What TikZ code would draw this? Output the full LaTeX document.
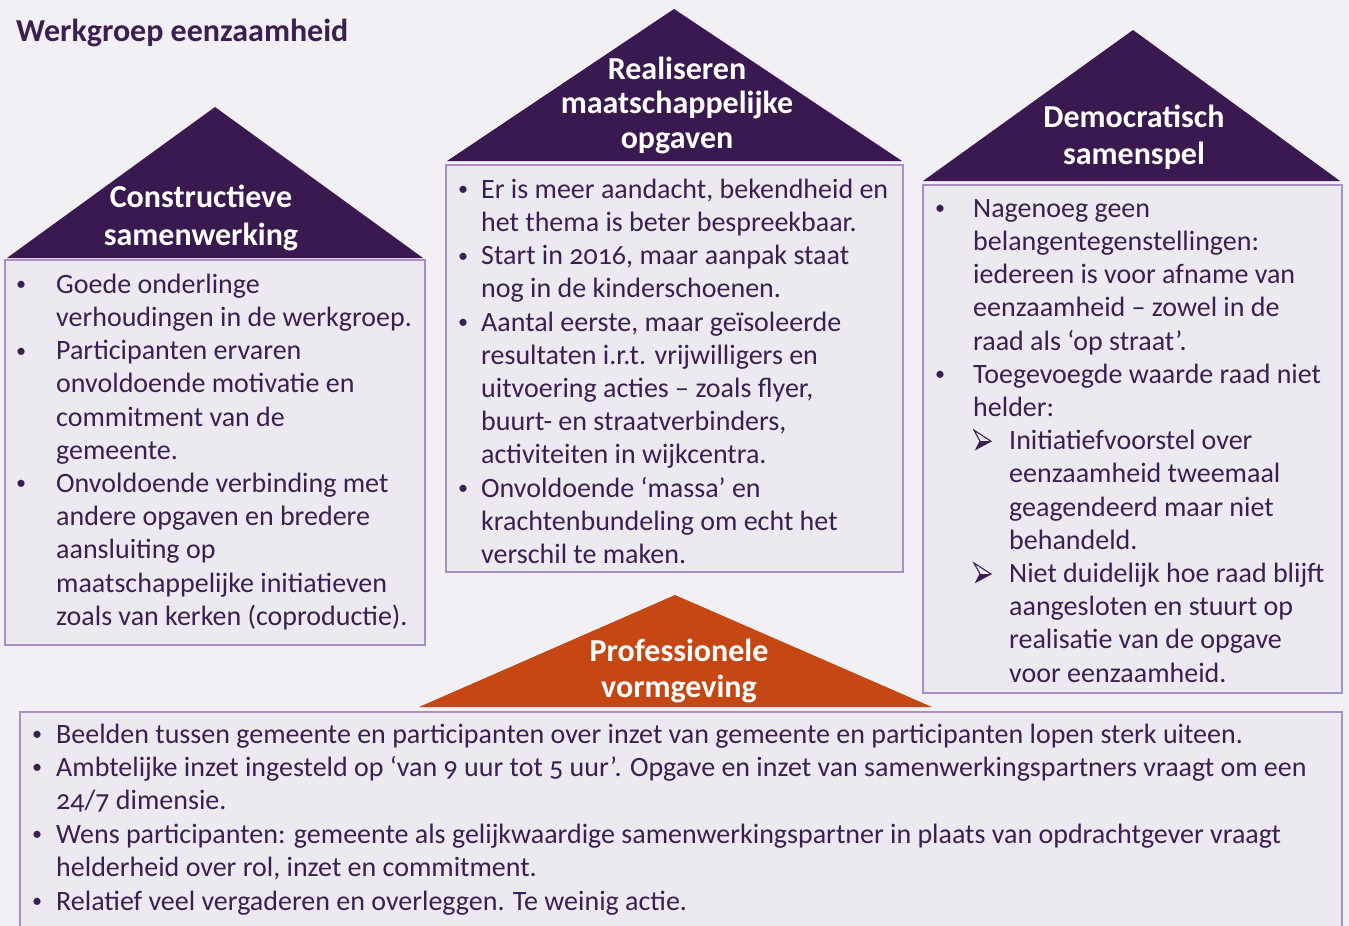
\documentclass[tikz,border=0pt]{standalone}
\usepackage{fontspec}
\usepackage{graphicx}
\setmainfont{Carlito}[Numbers=OldStyle]
\definecolor{bgcol}{HTML}{F2F0F5}
\definecolor{boxfill}{HTML}{ECE9F0}
\definecolor{boxline}{HTML}{A890C6}
\definecolor{roofpurple}{HTML}{3A1850}
\definecolor{txtcol}{HTML}{3B1F52}
\definecolor{rooforange}{HTML}{C44714}
\newcommand\bul[1]{\makebox[#1][l]{\hspace{2pt}\raisebox{2.6pt}{\scalebox{0.72}{•}}}}
\newcommand\ind[1]{\hspace*{#1}}
\tikzset{
  panel/.style={draw=boxline, line width=2.5pt, fill=boxfill},
  bodytext/.style={anchor=north west, inner sep=0pt, align=left, text=txtcol,
    font=\fontsize{28}{33.2}\selectfont},
  headtext/.style={anchor=north, inner sep=0pt, align=center, text=white,
    font=\bfseries\fontsize{32}{#1}\selectfont},
  arrowmark/.pic={
    \fill[txtcol] (7,-7) -- (18,-7) -- (3,1) -- cycle;
    \draw[txtcol, line width=1.1pt, line join=miter] (1,-18) -- (18,-7) -- (3,1) -- (7,-7) -- cycle;
    \draw[txtcol, line width=0.8pt] (7,-7) -- (18,-7);
  },
}
\begin{document}
\begin{tikzpicture}[x=1pt,y=-1pt]
\useasboundingbox (0,0) rectangle (1349,926);
\fill[bgcol] (0,0) rectangle (1349,926);
\clip (0,0) rectangle (1349,926);

% title
\node[anchor=base west, inner sep=0pt, text=txtcol, font=\bfseries\fontsize{32}{38}\selectfont]
  (title) at (16,41) {Werkgroep eenzaamheid};

% roofs
\fill[roofpurple] (7,258) -- (215,107) -- (423,258) -- cycle;
\fill[roofpurple] (447,161) -- (674,9) -- (902,161) -- cycle;
\fill[roofpurple] (923,181) -- (1133,30) -- (1340,181) -- cycle;
\fill[rooforange] (419,707) -- (675,595) -- (932,707) -- cycle;

% panels
\draw[panel] (5,260) rectangle (425,645);
\draw[panel] (446,165) rectangle (903,572);
\draw[panel] (923,185) rectangle (1342,693);
\draw[panel] (20,712) rectangle (1342,960);

% headings
\node[headtext=38] (h1) at (201,180.4) {\strut Constructieve\\samenwerking};
\node[headtext=34.5] (h2) at (677,54.85) {\strut Realiseren\\maatschappelijke\\opgaven};
\node[headtext=37] (h3) at (1134,101.1) {\strut Democratisch\\samenspel};
\node[headtext=36] (h4) at (679,635.8) {\strut Professionele\\vormgeving};

% box 1
\node[bodytext] (t1) at (14,269.8) {\strut\bul{42pt}Goede onderlinge\\
\ind{42pt}verhoudingen in de werkgroep.\\
\bul{42pt}Participanten ervaren\\
\ind{42pt}onvoldoende motivatie en\\
\ind{42pt}commitment van de\\
\ind{42pt}gemeente.\\
\bul{42pt}Onvoldoende verbinding met\\
\ind{42pt}andere opgaven en bredere\\
\ind{42pt}aansluiting op\\
\ind{42pt}maatschappelijke initiatieven\\
\ind{42pt}zoals van kerken (coproductie).};

% box 2
\node[bodytext] (t2) at (456,174.8) {\strut\bul{25pt}Er is meer aandacht, bekendheid en\\
\ind{25pt}het thema is beter bespreekbaar.\\
\bul{25pt}Start in 2016, maar aanpak staat\\
\ind{25pt}nog in de kinderschoenen.\\
\bul{25pt}Aantal eerste, maar geïsoleerde\\
\ind{25pt}resultaten i.r.t. vrijwilligers en\\
\ind{25pt}uitvoering acties – zoals flyer,\\
\ind{25pt}buurt- en straatverbinders,\\
\ind{25pt}activiteiten in wijkcentra.\\
\bul{25pt}Onvoldoende ‘massa’ en\\
\ind{25pt}krachtenbundeling om echt het\\
\ind{25pt}verschil te maken.};

% box 3
\node[bodytext] (t3) at (933,193.8) {\strut\bul{40pt}Nagenoeg geen\\
\ind{40pt}belangentegenstellingen:\\
\ind{40pt}iedereen is voor afname van\\
\ind{40pt}eenzaamheid – zowel in de\\
\ind{40pt}raad als ‘op straat’.\\
\bul{40pt}Toegevoegde waarde raad niet\\
\ind{40pt}helder:\\
\ind{76pt}Initiatiefvoorstel over\\
\ind{76pt}eenzaamheid tweemaal\\
\ind{76pt}geagendeerd maar niet\\
\ind{76pt}behandeld.\\
\ind{76pt}Niet duidelijk hoe raad blijft\\
\ind{76pt}aangesloten en stuurt op\\
\ind{76pt}realisatie van de opgave\\
\ind{76pt}voor eenzaamheid.};
\pic (arr1) at (973,448.2) {arrowmark};
\pic (arr2) at (973,581.0) {arrowmark};

% bottom box
\node[bodytext, font=\fontsize{28}{33.4}\selectfont] (t4) at (30,719.6) {\strut\bul{26pt}Beelden tussen gemeente en participanten over inzet van gemeente en participanten lopen sterk uiteen.\\
\bul{26pt}Ambtelijke inzet ingesteld op ‘van 9 uur tot 5 uur’. Opgave en inzet van samenwerkingspartners vraagt om een\\
\ind{26pt}24/7 dimensie.\\
\bul{26pt}Wens participanten: gemeente als gelijkwaardige samenwerkingspartner in plaats van opdrachtgever vraagt\\
\ind{26pt}helderheid over rol, inzet en commitment.\\
\bul{26pt}Relatief veel vergaderen en overleggen. Te weinig actie.};
\end{tikzpicture}
\end{document}
